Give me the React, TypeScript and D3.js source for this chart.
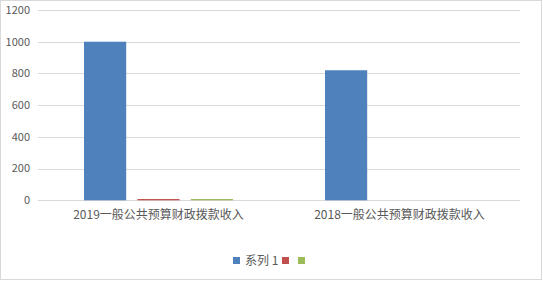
import React from "react";
import * as d3 from "d3";

const categories = ["2019一般公共预算财政拨款收入", "2018一般公共预算财政拨款收入"];
const seriesNames = ["系列 1", "", ""];
const seriesColors = ["#4F81BD", "#C0504D", "#9BBB59"];
const series1 = [1000, 820];
const series2 = [8, 0];
const series3 = [8, 0];
const yTicks = [0, 200, 400, 600, 800, 1000, 1200];

const W = 543;
const H = 281;
const font = "'Noto Sans CJK SC', 'Noto Sans', sans-serif";

export default function App() {
  const values = [series1, series2, series3];
  const x = d3.scaleBand<string>().domain(categories).range([38, 520]).paddingInner(0).paddingOuter(0);
  const y = d3.scaleLinear().domain([0, 1200]).range([200.3, 10]);
  const groupW = 149;
  const inner = d3
    .scaleBand<number>()
    .domain([0, 1, 2])
    .range([-groupW / 2, groupW / 2])
    .paddingInner(0.21)
    .paddingOuter(0);

  return (
    <svg width={W} height={H} style={{ position: "absolute", left: 0, top: 0, fontFamily: font }}>
      <rect x={0.5} y={0.5} width={541} height={279} fill="#fff" stroke="#d9d9d9" />
      {yTicks.map((t) => (
        <g key={t}>
          <line x1={38} x2={520} y1={Math.round(y(t)) + 0.5} y2={Math.round(y(t)) + 0.5} stroke="#d9d9d9" />
          <text x={30} y={y(t)} dy="0.35em" textAnchor="end" fontSize={11} fill="#595959">
            {t}
          </text>
        </g>
      ))}
      {categories.map((c, ci) => {
        const cx = (x(c) as number) + x.bandwidth() / 2;
        return (
          <g key={c}>
            {values.map((vals, si) => {
              const v = vals[ci];
              if (!v) return null;
              const bx = cx + (inner(si) as number);
              return (
                <rect
                  key={si}
                  x={bx}
                  y={y(v)}
                  width={inner.bandwidth()}
                  height={y(0) - y(v)}
                  fill={seriesColors[si]}
                />
              );
            })}
            <text x={cx} y={215} dy="0.35em" textAnchor="middle" fontSize={12} fill="#595959">
              {c}
            </text>
          </g>
        );
      })}
      <g>
        <rect x={233} y={257} width={7} height={7} fill={seriesColors[0]} />
        <text x={245} y={261} dy="0.35em" fontSize={12} fill="#595959">
          {seriesNames[0]}
        </text>
        <rect x={282} y={257} width={7} height={7} fill={seriesColors[1]} />
        <rect x={298} y={257} width={7} height={7} fill={seriesColors[2]} />
      </g>
    </svg>
  );
}
